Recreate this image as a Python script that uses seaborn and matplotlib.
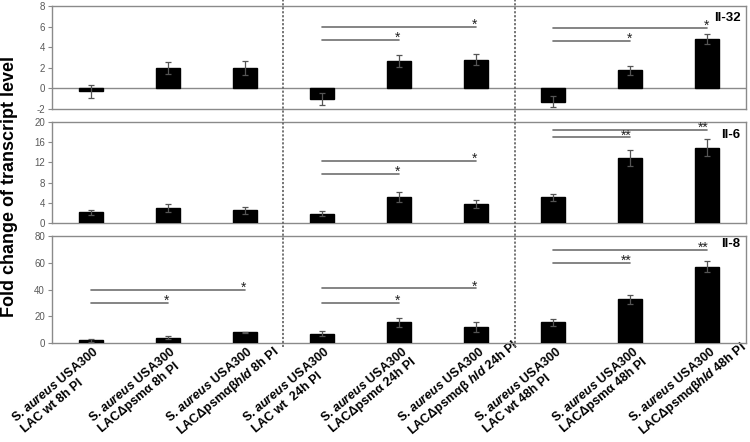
import matplotlib
matplotlib.use('Agg')
import numpy as np
import matplotlib.pyplot as plt
import matplotlib.transforms as mtrans
from matplotlib.lines import Line2D
import seaborn as sns
import pandas as pd

sns.set_theme(style='white')
plt.rcParams['font.family'] = ['Liberation Sans', 'DejaVu Sans']
plt.rcParams['mathtext.fontset'] = 'custom'
plt.rcParams['mathtext.it'] = 'Liberation Sans:italic:bold'
plt.rcParams['mathtext.rm'] = 'Liberation Sans:bold'
plt.rcParams['mathtext.bf'] = 'Liberation Sans:bold'

# ---------------- data ----------------
categories = ['wt 8h', 'psma 8h', 'psmabhld 8h',
              'wt 24h', 'psma 24h', 'psmabhld 24h',
              'wt 48h', 'psma 48h', 'psmabhld 48h']
label_line1 = 'S. $\\mathit{aureus}$ USA300'
tick_labels = [
    label_line1 + '\nLAC wt 8h PI',
    label_line1 + '\nLACΔpsmα 8h PI',
    label_line1 + '\nLACΔpsmαβ$\\mathit{hld}$ 8h PI',
    label_line1 + '\nLAC wt  24h PI',
    label_line1 + '\nLACΔpsmα 24h PI',
    label_line1 + '\nLACΔpsmαβ $\\mathit{hld}$ 24h PI',
    label_line1 + '\nLAC wt 48h PI',
    label_line1 + '\nLACΔpsmα 48h PI',
    label_line1 + '\nLACΔpsmαβ$\\mathit{hld}$ 48h PI',
]
il32_vals = [-0.3, 2.0, 2.0, -1.0, 2.65, 2.8, -1.3, 1.75, 4.8]
il32_err = [0.6, 0.6, 0.7, 0.6, 0.6, 0.5, 0.55, 0.45, 0.5]
il6_vals = [2.1, 2.9, 2.5, 1.8, 5.1, 3.8, 5.1, 12.9, 14.9]
il6_err = [0.5, 0.8, 0.7, 0.5, 1.0, 0.8, 0.7, 1.6, 1.7]
il8_vals = [2.0, 4.0, 8.0, 7.0, 15.5, 12.0, 15.5, 32.8, 57.2]
il8_err = [1.0, 1.0, 0.6, 2.0, 3.5, 3.5, 2.5, 3.5, 4.0]

# significance brackets: (from index, to index, height, label)
il32_sig = [(3, 5, 6.0, '*'), (3, 4, 4.7, '*'), (6, 8, 5.85, '*'), (6, 7, 4.6, '*')]
il6_sig = [(3, 5, 12.3, '*'), (3, 4, 9.7, '*'), (6, 8, 18.5, '**'), (6, 7, 17.0, '**')]
il8_sig = [(0, 2, 40, '*'), (0, 1, 30, '*'), (3, 5, 41, '*'), (3, 4, 30, '*'),
           (6, 8, 70, '**'), (6, 7, 60, '**')]

panel_names = ['Il-32', 'Il-6', 'Il-8']
panel_ylims = [(-2, 8), (0, 20), (0, 80)]
panel_ticks = [[-2, 0, 2, 4, 6, 8], [0, 4, 8, 12, 16, 20], [0, 20, 40, 60, 80]]

# ---------------- figure ----------------
fig = plt.figure(figsize=(7.5, 4.42), dpi=100)
W, H = 750, 442
left, right = 52, 746
boxes = [(6, 109), (122.3, 222.8), (236.3, 343)]
axes = []
for top, bot in boxes:
    ax = fig.add_axes([left / W, 1 - bot / H, (right - left) / W, (bot - top) / H])
    axes.append(ax)

spine_col = '#8a8a8a'
tick_col = '#595959'
series = [(il32_vals, il32_err, il32_sig), (il6_vals, il6_err, il6_sig),
          (il8_vals, il8_err, il8_sig)]

for k, (ax, (vals, errs, sigs)) in enumerate(zip(axes, series)):
    df = pd.DataFrame({'cat': categories, 'val': vals})
    sns.barplot(data=df, x='cat', y='val', color='black', width=0.31,
                errorbar=None, ax=ax, zorder=3, saturation=1)
    for p in ax.patches:
        p.set_edgecolor('black')
    ax.errorbar(range(len(vals)), vals, yerr=errs, fmt='none', ecolor='#555555',
                elinewidth=0.9, capsize=2, capthick=0.9, zorder=4)
    for i, j, h, lab in sigs:
        ax.plot([i, j], [h, h], color='#707070', lw=1.2, zorder=2)
        ax.annotate(lab, xy=(j, h), xytext=(1, -1.5), textcoords='offset points',
                    ha='right', va='baseline', fontsize=10, color='#222222')
    ax.set_xlim(-0.5, 8.5)
    ax.set_ylim(*panel_ylims[k])
    ax.set_yticks(panel_ticks[k])
    ax.set_yticklabels([str(t) for t in panel_ticks[k]])
    ax.tick_params(axis='y', length=3, width=0.8, color=spine_col, labelsize=7,
                   labelcolor=tick_col, pad=2, left=True)
    ax.set_xlabel('')
    ax.set_ylabel('')
    for s in ax.spines.values():
        s.set_color(spine_col)
        s.set_linewidth(1.0)
    ax.text(0.992, [0.94, 0.93, 0.985][k], panel_names[k], transform=ax.transAxes,
            ha='right', va='top', fontsize=9.5, fontweight='bold', color='black')
    if k < 2:
        ax.set_xticks(range(9))
        ax.set_xticklabels([])
        ax.tick_params(axis='x', length=0)
    if k == 0:
        ax.axhline(0, color=spine_col, lw=1.0, zorder=1)

# x tick labels on the bottom panel
ax3 = axes[2]
rot = 40
lab_fs = 9
tmp = fig.text(0, 0, label_line1, fontsize=lab_fs, fontweight='bold')
fig.canvas.draw()
L = tmp.get_window_extent().width
tmp.remove()
ax3.set_xticks(range(9))
ax3.set_xticklabels(tick_labels, rotation=rot, ha='left', va='top',
                    rotation_mode='anchor', fontsize=lab_fs, fontweight='bold',
                    color='black')
ax3.tick_params(axis='x', length=0, pad=0)
th = np.radians(rot)
dx = 2 - L * np.cos(th)
dy = -(2 + L * np.sin(th))
offset = mtrans.ScaledTranslation(dx / 100, dy / 100, fig.dpi_scale_trans)
for lab in ax3.get_xticklabels():
    lab.set_multialignment('left')
    lab.set_transform(lab.get_transform() + offset)

# dotted group separators
trans = mtrans.blended_transform_factory(ax3.transData, fig.transFigure)
for xs in (2.5, 5.5):
    fig.add_artist(Line2D([xs, xs], [1 - 347 / H, 1.0], transform=trans,
                          color='#6a6a6a', lw=1.3, linestyle=(0, (1.2, 1.0))))

fig.text(10 / W, 1 - 186.5 / H, 'Fold change of transcript level', rotation=90,
         ha='center', va='center', fontsize=13, fontweight='bold', color='black')

fig.savefig('out.png', dpi=100)
